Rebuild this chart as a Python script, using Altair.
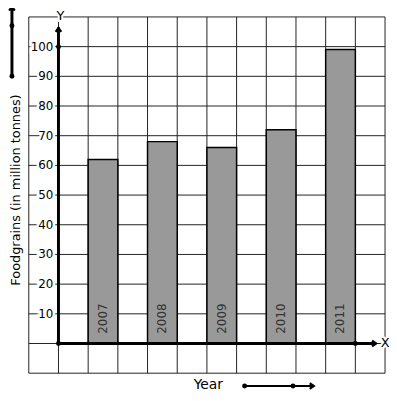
import altair as alt
import pandas as pd

# ---- data ----
years = ["2007", "2008", "2009", "2010", "2011"]
values = [62, 68, 66, 72, 99]
y_tick_labels = [10, 20, 30, 40, 50, 60, 70, 80, 90, 100]
x_grid = list(range(-1, 12))
y_grid = list(range(-10, 111, 10))

bars = pd.DataFrame({
    "year": years,
    "value": values,
    "x0": [2 * i + 1 for i in range(len(years))],
    "x1": [2 * i + 2 for i in range(len(years))],
    "xm": [2 * i + 1.5 for i in range(len(years))],
})
ticks = pd.DataFrame({"v": y_tick_labels, "lab": [str(v) for v in y_tick_labels]})

FONT = "DejaVu Sans"
xs = alt.Scale(domain=[-1, 11], nice=False, zero=False)
ys = alt.Scale(domain=[-10, 110], nice=False, zero=False)


def X(f):
    return alt.X(f, scale=xs, axis=None)


def Y(f):
    return alt.Y(f, scale=ys, axis=None)


# grid
vgrid = alt.Chart(pd.DataFrame({"g": x_grid})).mark_rule(color="#222222", strokeWidth=1).encode(
    x=X("g:Q"), y=alt.datum(-10, scale=ys, axis=None), y2=alt.datum(110)
)
hgrid = alt.Chart(pd.DataFrame({"g": y_grid})).mark_rule(color="#222222", strokeWidth=1).encode(
    y=Y("g:Q"), x=alt.datum(-1, scale=xs, axis=None), x2=alt.datum(11)
)

bar_layer = alt.Chart(bars).mark_rect(fill="#999999", stroke="black", strokeWidth=1.5).encode(
    x=X("x0:Q"),
    x2="x1:Q",
    y=Y("value:Q"),
    y2=alt.datum(0),
)

bar_text = alt.Chart(bars).transform_calculate(lab_y="3.3").mark_text(
    angle=270, align="left", baseline="middle", font=FONT, fontSize=12, color="#333333"
).encode(
    x=X("xm:Q"),
    y=Y("lab_y:Q"),
    text="year:N",
)

# annotation lines
rules = pd.DataFrame({
    "x": [0, 0, -1.567, 6.27],
    "x2": [0, 10.7, -1.567, 8.6],
    "y": [0, 0, 90, -14.33],
    "y2": [106.5, 0, 113.5, -14.33],
    "w": [3, 3, 3, 2],
})
rule_layer = alt.Chart(rules).mark_rule(color="black").encode(
    x=X("x:Q"), x2="x2:Q",
    y=Y("y:Q"), y2="y2:Q",
    strokeWidth=alt.StrokeWidth("w:Q", scale=None, legend=None),
)

dots = pd.DataFrame({
    "x": [0, 0, 10, -1.567, -1.567, 6.27, 7.9],
    "y": [100, 0, 0, 107, 90, -14.33, -14.33],
})
dot_layer = alt.Chart(dots).mark_point(filled=True, color="black", size=25, opacity=1).encode(
    x=X("x:Q"), y=Y("y:Q"),
)

up = pd.DataFrame({"x": [0, -1.567], "y": [106.3, 113.5]})
up_layer = alt.Chart(up).mark_point(
    shape="M-0.9,1.3L0,0L0.9,1.3", filled=False, stroke="black", strokeWidth=2.2, size=40, opacity=1
).encode(x=X("x:Q"), y=Y("y:Q"))

right = pd.DataFrame({"x": [10.7, 8.6], "y": [0, -14.33]})
right_layer = alt.Chart(right).mark_point(
    shape="M-1.3,-0.9L0,0L-1.3,0.9", filled=False, stroke="black", strokeWidth=2.2, size=40, opacity=1
).encode(x=X("x:Q"), y=Y("y:Q"))

# tick labels with white halo to break grid lines
ticks["tx"] = -0.17
tick_halo = alt.Chart(ticks).mark_text(
    align="right", baseline="middle", font=FONT, fontSize=12, stroke="white", strokeWidth=5, fill="white"
).encode(x=X("tx:Q"), y=Y("v:Q"), text="lab:N")
tick_text = alt.Chart(ticks).mark_text(
    align="right", baseline="middle", font=FONT, fontSize=12, color="black"
).encode(x=X("tx:Q"), y=Y("v:Q"), text="lab:N")

labels = pd.DataFrame({
    "x": [0.067, 11.0],
    "y": [110.4, 0.3],
    "t": ["Y", "X"],
})
label_halo = alt.Chart(labels).mark_text(
    align="center", baseline="middle", font=FONT, fontSize=13, stroke="white", strokeWidth=4, fill="white"
).encode(x=X("x:Q"), y=Y("y:Q"), text="t:N")
label_text = alt.Chart(labels).mark_text(
    align="center", baseline="middle", font=FONT, fontSize=13, color="black"
).encode(x=X("x:Q"), y=Y("y:Q"), text="t:N")

year_title = alt.Chart(pd.DataFrame({"x": [5.05], "y": [-14.0], "t": ["Year"]})).mark_text(
    align="center", baseline="middle", font=FONT, fontSize=14, color="black"
).encode(x=X("x:Q"), y=Y("y:Q"), text="t:N")

y_title = alt.Chart(pd.DataFrame({"x": [-1.43], "y": [51.7], "t": ["Foodgrains (in million tonnes)"]})).mark_text(
    angle=270, align="center", baseline="middle", font=FONT, fontSize=13, color="black"
).encode(x=X("x:Q"), y=Y("y:Q"), text="t:N")

chart = alt.layer(
    vgrid, hgrid, bar_layer, bar_text, rule_layer, dot_layer, up_layer, right_layer,
    tick_halo, tick_text, label_halo, label_text, year_title, y_title,
).properties(
    width=360, height=360,
    autosize=alt.AutoSizeParams(type="none"),
    padding={"left": 21, "top": 7, "right": 4, "bottom": 20},
).configure_view(strokeWidth=0)

chart.save("out.html", embed_options={"renderer": "svg", "actions": False})
